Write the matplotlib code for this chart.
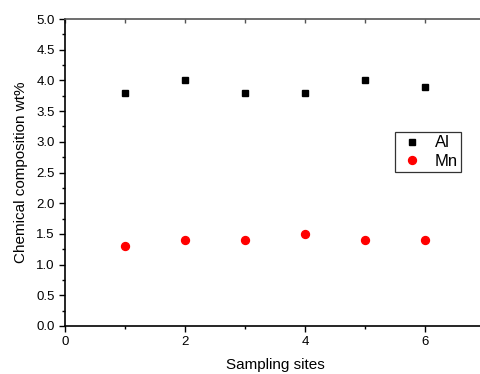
import matplotlib
matplotlib.use("Agg")
import matplotlib.pyplot as plt
from matplotlib.ticker import MultipleLocator, FormatStrFormatter

plt.rcParams['font.family'] = ['Liberation Sans', 'DejaVu Sans']

sites = [1, 2, 3, 4, 5, 6]
al = [3.8, 4.0, 3.8, 3.8, 4.0, 3.9]
mn = [1.3, 1.4, 1.4, 1.5, 1.4, 1.4]

fig = plt.figure(figsize=(4.8, 3.74), dpi=100)
ax = fig.add_axes([65/480, 1-326/374, 420/480, (326-19)/374])
ax.plot(sites, al, 's', color='black', markersize=5, label='Al', clip_on=False)
ax.plot(sites, mn, 'o', color='red', markersize=5.7, label='Mn', clip_on=False)
ax.set_xlim(0, 7)
ax.set_ylim(0, 5)
ax.xaxis.set_major_locator(MultipleLocator(2))
ax.xaxis.set_minor_locator(MultipleLocator(1))
ax.yaxis.set_major_locator(MultipleLocator(0.5))
ax.yaxis.set_minor_locator(MultipleLocator(0.25))
ax.yaxis.set_major_formatter(FormatStrFormatter('%.1f'))
ax.tick_params(axis='both', which='major', direction='out', length=4, width=1, labelsize=9.5, pad=3.5)
ax.tick_params(axis='both', which='minor', direction='out', length=2.5, width=1)
ax.spines['right'].set_visible(False)
ax.spines['top'].set_color('#555555')
ax.spines['top'].set_linewidth(1.2)
ax.spines['left'].set_linewidth(1.2)
ax.spines['bottom'].set_linewidth(1.2)

top = ax.secondary_xaxis('top')
top.xaxis.set_major_locator(MultipleLocator(2))
top.xaxis.set_minor_locator(MultipleLocator(1))
top.tick_params(which='both', direction='in', length=3, width=1, labeltop=False, colors='#555555')
top.spines['top'].set_visible(False)

ax.set_xlabel('Sampling sites', fontsize=11, labelpad=7)
ax.set_ylabel('Chemical composition wt%', fontsize=11, labelpad=6)
leg = ax.legend(loc='upper left', bbox_to_anchor=((395-65)/420, (326-132)/307),
                fontsize=12, frameon=True, fancybox=False, edgecolor='black',
                handletextpad=0.6, borderpad=0.2, labelspacing=0.2, handlelength=1.6,
                borderaxespad=0, markerscale=1.0)
leg.get_frame().set_linewidth(0.9)
fig.savefig('out.png', dpi=100)
